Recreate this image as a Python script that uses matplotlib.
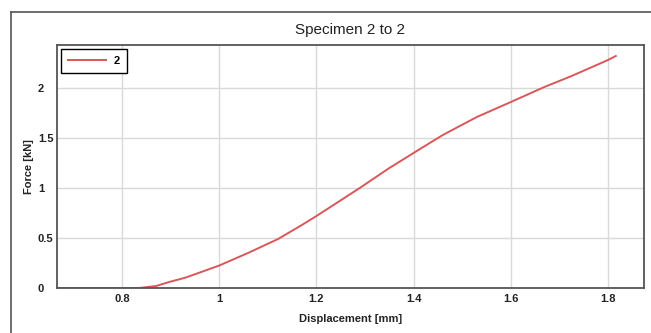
import matplotlib
matplotlib.use("Agg")
import matplotlib.pyplot as plt
from matplotlib.lines import Line2D

plt.rcParams['font.family'] = ['Liberation Sans', 'DejaVu Sans']

displacement = [0.666, 0.80, 0.835, 0.87, 0.899, 0.93, 0.96, 1.0, 1.059, 1.121,
                1.17, 1.2, 1.289, 1.35, 1.413, 1.46, 1.53, 1.6, 1.669, 1.725,
                1.8, 1.816]
force = [0.0, 0.0, 0.0, 0.02, 0.063, 0.103, 0.155, 0.225, 0.35, 0.49,
         0.63, 0.72, 1.0, 1.2, 1.39, 1.53, 1.71, 1.86, 2.01, 2.12,
         2.28, 2.32]
series_name = "2"
xticks = [0.8, 1.0, 1.2, 1.4, 1.6, 1.8]
xtick_labels = ["0.8", "1", "1.2", "1.4", "1.6", "1.8"]
yticks = [0, 0.5, 1, 1.5, 2]
ytick_labels = ["0", "0.5", "1", "1.5", "2"]

W, H = 651, 333
fig = plt.figure(figsize=(W / 100, H / 100), dpi=100)
fig.patch.set_facecolor('white')

# outer frame
fig.add_artist(Line2D([11 / W, 11 / W], [1 - 12 / H, 0], color='#555555', lw=1.2,
                      transform=fig.transFigure))
fig.add_artist(Line2D([11 / W, 1], [1 - 12 / H, 1 - 12 / H], color='#555555', lw=1.2,
                      transform=fig.transFigure))

left, right, top, bottom = 57, 644, 45, 288
ax = fig.add_axes([left / W, 1 - bottom / H, (right - left) / W, (bottom - top) / H])
ax.plot(displacement, force, color='#d9575a', lw=1.4, label=series_name)
ax.set_xlim(0.666, 1.874)
ax.set_ylim(0, 2.43)
ax.set_xticks(xticks)
ax.set_xticklabels(xtick_labels)
ax.set_yticks(yticks)
ax.set_yticklabels(ytick_labels)
ax.grid(True, color='#d9d9d9', lw=1)
ax.set_axisbelow(True)
ax.tick_params(length=0, labelsize=8, colors='#222222')
ax.tick_params(axis='x', pad=4.5)
ax.tick_params(axis='y', pad=(left - 38) * 0.72)
for lab in ax.get_yticklabels():
    lab.set_horizontalalignment('left')
for lab in ax.get_xticklabels() + ax.get_yticklabels():
    lab.set_fontweight('bold')
for s in ax.spines.values():
    s.set_color('#555555')
    s.set_linewidth(1.3)

ax.set_title("Specimen 2 to 2", fontsize=11, color='#222222', pad=8)
ax.set_xlabel("Displacement [mm]", fontsize=8, fontweight='bold', color='#222222')
ax.xaxis.set_label_coords(0.5, -(314 - bottom) / (bottom - top))
ax.set_ylabel("Force [kN]", fontsize=8, fontweight='bold', color='#222222')
ax.yaxis.set_label_coords((34 - left) / (right - left), 0.5)

leg = ax.legend(loc='upper left', fancybox=False, edgecolor='black', framealpha=1,
                handlelength=3.4, handletextpad=0.7, borderaxespad=0.35,
                prop={'weight': 'bold', 'size': 8}, borderpad=0.65)
leg.get_frame().set_linewidth(1.0)

fig.savefig("out.png", dpi=100)
